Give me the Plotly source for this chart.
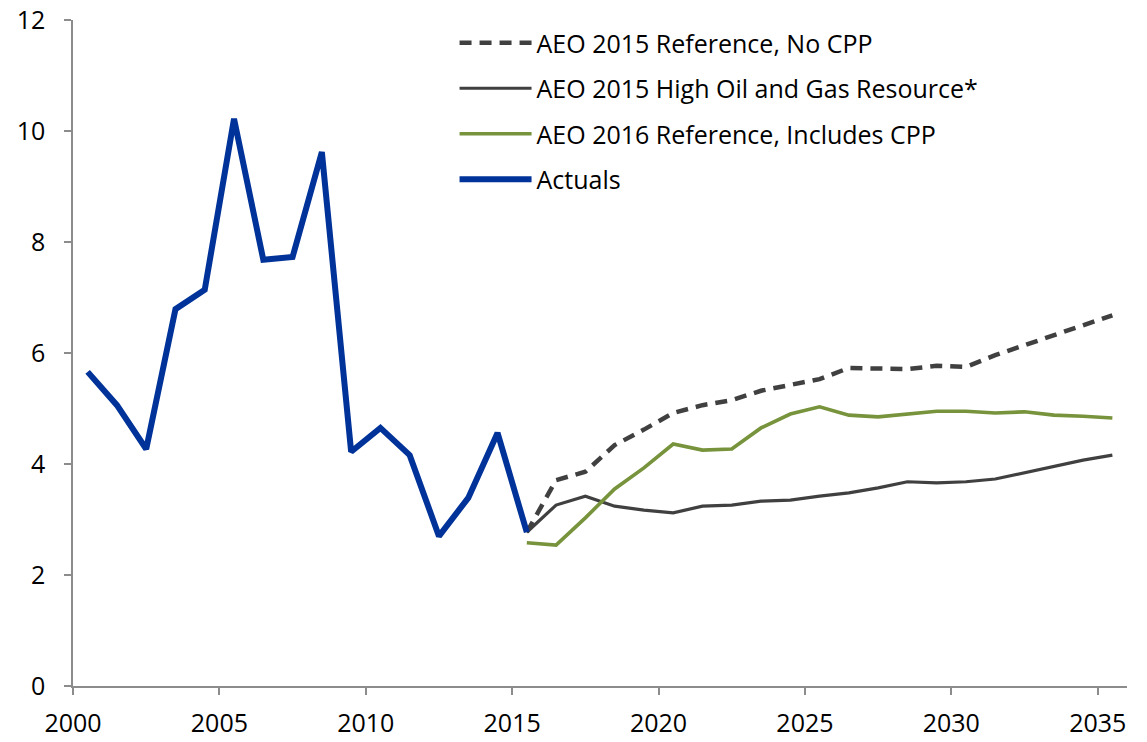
import plotly.graph_objects as go

years_actual = list(range(2000, 2016))
actuals = [5.66, 5.06, 4.27, 6.79, 7.14, 10.22, 7.68, 7.73, 9.62, 4.22, 4.65, 4.16, 2.70, 3.39, 4.56, 2.77]

years_proj = list(range(2015, 2036))
aeo2015_ref = [2.77, 3.71, 3.86, 4.34, 4.62, 4.92, 5.06, 5.15, 5.32, 5.42, 5.53, 5.73, 5.71, 5.71, 5.77, 5.75,
               5.96, 6.14, 6.32, 6.52, 6.68]
aeo2015_high = [2.77, 3.26, 3.42, 3.24, 3.17, 3.12, 3.24, 3.26, 3.33, 3.35, 3.42, 3.48, 3.57, 3.68, 3.66, 3.68,
                3.73, 3.84, 3.95, 4.07, 4.16]
aeo2016_ref = [2.58, 2.54, 3.03, 3.55, 3.93, 4.36, 4.25, 4.27, 4.65, 4.90, 5.03, 4.88, 4.85, 4.90, 4.95, 4.95,
               4.92, 4.94, 4.88, 4.86, 4.83]

tick_years = [2000, 2005, 2010, 2015, 2020, 2025, 2030, 2035]
y_ticks = [0, 2, 4, 6, 8, 10, 12]

# categories are centred between tick marks (Excel-style category axis)
def mid(ys):
    return [y + 0.5 for y in ys]

fig = go.Figure()
fig.add_trace(go.Scatter(x=mid(years_proj), y=aeo2015_ref, mode="lines", name="AEO 2015 Reference, No CPP",
                         legendgroup="a", line=dict(color="#404040", width=4.5, dash="12px,8px")))
fig.add_trace(go.Scatter(x=mid(years_proj), y=aeo2015_high, mode="lines", name="AEO 2015 High Oil and Gas Resource*",
                         legendgroup="b", line=dict(color="#404040", width=3.2)))
fig.add_trace(go.Scatter(x=mid(years_proj), y=aeo2016_ref, mode="lines", name="AEO 2016 Reference, Includes CPP",
                         legendgroup="c", line=dict(color="#77933C", width=3.6)))
fig.add_trace(go.Scatter(x=mid(years_actual), y=actuals, mode="lines", name="Actuals",
                         legendgroup="d", line=dict(color="#003399", width=6)))

fig.update_layout(
    width=1147, height=742,
    margin=dict(l=73, r=20, t=20, b=56, autoexpand=False),
    paper_bgcolor="white", plot_bgcolor="white",
    font=dict(family="Open Sans", size=25, color="black"),
    showlegend=True,
    legend=dict(x=0.362, y=1.0, xanchor="left", yanchor="top", bgcolor="rgba(0,0,0,0)",
                font=dict(size=25), itemwidth=72, tracegroupgap=10),
)
fig.update_xaxes(range=[2000, 2036], tickvals=tick_years, ticktext=[str(t) for t in tick_years],
                 showgrid=False, zeroline=False, showline=True, linecolor="#8c8c8c", linewidth=1.5,
                 ticks="outside", ticklen=7, tickcolor="#8c8c8c", tickwidth=1.5, automargin=False,
                 tickfont=dict(size=25), ticklabelstandoff=7)
fig.update_yaxes(range=[0, 12], tickvals=y_ticks, showgrid=False, zeroline=False, showline=True,
                 linecolor="#8c8c8c", linewidth=1.5, ticks="outside", ticklen=7, tickcolor="#8c8c8c",
                 tickwidth=1.5, automargin=False, tickfont=dict(size=25), ticklabelstandoff=14)

fig.write_html("out.html", config={"displayModeBar": False})

# remove the browser's default page margin so the figure sits at the window's corner
with open("out.html", encoding="utf-8") as f:
    html = f.read()
html = html.replace("<body>", '<body style="margin:0;padding:0;overflow:hidden">', 1)
with open("out.html", "w", encoding="utf-8") as f:
    f.write(html)
